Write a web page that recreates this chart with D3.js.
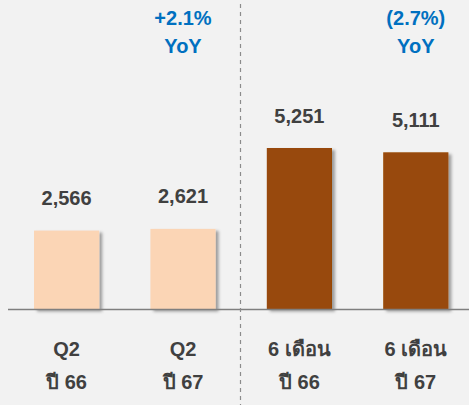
<!DOCTYPE html>
<html>
<head>
<meta charset="utf-8">
<script src="https://cdn.jsdelivr.net/npm/d3@7"></script>
<style>
  body { margin: 0; background: #f2f2f2; }
  text { font-family: "Liberation Sans", Arial, sans-serif; font-weight: bold; }
</style>
</head>
<body>
<div class="chart"></div>
<script>
// chart data
var periods = ["Q2", "Q2", "6 เดือน", "6 เดือน"];
var years = ["ปี 66", "ปี 67", "ปี 66", "ปี 67"];
var values = [2566, 2621, 5251, 5111];
var yoyLabels = [null, "+2.1%", null, "(2.7%)"];

var svgWidth = 469;
var svgHeight = 405;
var baseY = 309.5;

var svg = d3.select(".chart")
  .append("svg")
  .attr("width", svgWidth)
  .attr("height", svgHeight);

var defs = svg.append("defs");
var shadow = defs.append("filter").attr("id", "shadow")
  .attr("x", "-20%").attr("y", "-20%").attr("width", "150%").attr("height", "150%");
shadow.append("feDropShadow")
  .attr("dx", 3).attr("dy", 2).attr("stdDeviation", 1.8)
  .attr("flood-color", "#000").attr("flood-opacity", 0.35);

var xScale = d3.scaleBand()
  .domain(d3.range(values.length))
  .range([8.4, 474])
  .paddingInner(0.44)
  .paddingOuter(0.22);

var yScale = d3.scaleLinear()
  .domain([0, d3.max(values)])
  .range([baseY, 148]);

function center(i) { return xScale(i) + xScale.bandwidth() / 2; }

// bars, light for quarter, dark for half year
svg.selectAll("rect.bar")
  .data(values)
  .enter().append("rect")
  .attr("class", "bar")
  .attr("x", function(d, i) { return xScale(i); })
  .attr("y", function(d) { return yScale(d); })
  .attr("width", xScale.bandwidth())
  .attr("height", function(d) { return baseY - yScale(d); })
  .attr("fill", function(d, i) { return i < 2 ? "#fbd5b5" : "#984807"; })
  .attr("filter", "url(#shadow)");

// baseline
svg.append("line")
  .attr("x1", 8).attr("x2", svgWidth)
  .attr("y1", baseY).attr("y2", baseY)
  .attr("stroke", "#7f7f7f")
  .attr("stroke-width", 1.5);

// divider
svg.append("line")
  .attr("x1", 240.5).attr("x2", 240.5)
  .attr("y1", 4).attr("y2", svgHeight)
  .attr("stroke", "#8c8c8c")
  .attr("stroke-width", 1.2)
  .attr("stroke-dasharray", "4,4");

// value labels
svg.selectAll("text.value")
  .data(values)
  .enter().append("text")
  .attr("class", "value")
  .attr("x", function(d, i) { return center(i); })
  .attr("y", function(d) { return yScale(d) - 25.5; })
  .attr("text-anchor", "middle")
  .attr("font-size", 20)
  .attr("fill", "#404040")
  .text(function(d) { return d3.format(",")(d); });

// YoY
var yoyData = yoyLabels
  .map(function(d, i) { return { t: d, i: i }; })
  .filter(function(d) { return d.t; });

svg.selectAll("text.yoy1")
  .data(yoyData)
  .enter().append("text")
  .attr("class", "yoy1")
  .attr("x", function(d) { return center(d.i); })
  .attr("y", 25)
  .attr("text-anchor", "middle")
  .attr("font-size", 20)
  .attr("fill", "#0070c0")
  .text(function(d) { return d.t; });

svg.selectAll("text.yoy2")
  .data(yoyData)
  .enter().append("text")
  .attr("class", "yoy2")
  .attr("x", function(d) { return center(d.i); })
  .attr("y", 53)
  .attr("text-anchor", "middle")
  .attr("font-size", 20)
  .attr("fill", "#0070c0")
  .text("YoY");

// category labels
svg.selectAll("text.period")
  .data(periods)
  .enter().append("text")
  .attr("class", "period")
  .attr("x", function(d, i) { return center(i); })
  .attr("y", 356)
  .attr("text-anchor", "middle")
  .attr("font-size", 20)
  .attr("fill", "#404040")
  .text(function(d) { return d; });

svg.selectAll("text.year")
  .data(years)
  .enter().append("text")
  .attr("class", "year")
  .attr("x", function(d, i) { return center(i); })
  .attr("y", 389)
  .attr("text-anchor", "middle")
  .attr("font-size", 20)
  .attr("fill", "#404040")
  .text(function(d) { return d; });
</script>
</body>
</html>
